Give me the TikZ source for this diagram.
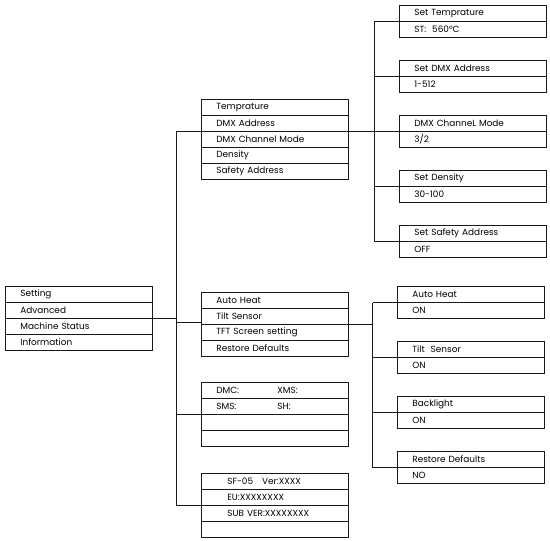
\documentclass[tikz,border=0pt]{standalone}
\usepackage{fontspec}
\setmainfont{Poppins}

\begin{document}
\begin{tikzpicture}[x=1pt,y=1pt,yscale=-1,xscale=1,
  cell/.style={draw=black!90, line width=0.75pt, anchor=north west, minimum height=16pt,
    inner xsep=15pt, inner ysep=0pt, text width=117pt, align=left,
    font=\fontsize{8.9}{9}\selectfont},
  cellwide/.style={cell, inner xsep=26pt, text width=95pt},
  link/.style={draw=black!90, line width=0.85pt}]
\useasboundingbox (0,0) rectangle (550,541);

% Main menu
\node [cell] (set) at (5,286) {Setting};
\node [cell] (adv) at (5,302) {Advanced};
\node [cell] (mst) at (5,318) {Machine Status};
\node [cell] (inf) at (5,334) {Information};

% Setting menu
\node [cell] (tmp) at (201,99) {Temprature};
\node [cell] (dad) at (201,115) {DMX Address};
\node [cell] (dcm) at (201,131) {DMX Channel Mode};
\node [cell] (den) at (201,147) {Density};
\node [cell] (saf) at (201,163) {Safety Address};

% Advanced menu
\node [cell] (aht) at (201,292) {Auto Heat};
\node [cell] (tls) at (201,308) {Tilt Sensor};
\node [cell] (tft) at (201,324) {TFT Screen setting};
\node [cell] (rsd) at (201,340) {Restore Defaults};

% Machine status
\node [cell] (dmc) at (201,382) {\makebox[61pt][l]{DMC:}XMS:};
\node [cell] (sms) at (201,398) {\makebox[61pt][l]{SMS:}SH:};
\node [cell] (msa) at (201,414) {};
\node [cell] (msb) at (201,430) {};

% Information
\node [cellwide] (ver) at (201,473) {SF-05\ \ \ Ver:XXXX};
\node [cellwide] (eu) at (201,489) {EU:XXXXXXXX};
\node [cellwide] (sub) at (201,505) {SUB VER:XXXXXXXX};
\node [cellwide] (inb) at (201,521) {};

% Setting values
\node [cell] (stt) at (399,5) {Set Temprature};
\node [cell] (stv) at (399,21) {ST:\ \ 560°C};
\node [cell] (sdt) at (399,60) {Set DMX Address};
\node [cell] (sdv) at (399,76) {1-512};
\node [cell] (chm) at (399,115) {DMX ChanneL Mode};
\node [cell] (chv) at (399,131) {3/2};
\node [cell] (sdn) at (399,170) {Set Density};
\node [cell] (snv) at (399,186) {30-100};
\node [cell] (ssa) at (399,225) {Set Safety Address};
\node [cell] (ssv) at (399,241) {OFF};

% Advanced values
\node [cell] (ah2) at (397,286) {Auto Heat};
\node [cell] (ahv) at (397,302) {ON};
\node [cell] (tl2) at (397,341) {Tilt\ \ Sensor};
\node [cell] (tlv) at (397,357) {ON};
\node [cell] (bl2) at (397,396) {Backlight};
\node [cell] (blv) at (397,412) {ON};
\node [cell] (rd2) at (397,451) {Restore Defaults};
\node [cell] (rdv) at (397,467) {NO};

% Connectors
\coordinate (trunk) at (176,0);
\coordinate (colA) at (374,0);
\coordinate (colB) at (372.5,0);

\draw [link] (dad.south west -| trunk) -- (sub.north west -| trunk);
\draw [link] (adv.south east) -- (adv.south east -| trunk);
\draw [link] (dad.south west -| trunk) -- (dad.south west);
\draw [link] ([yshift=-2pt]tls.south west -| trunk) -- ([yshift=-2pt]tls.south west);
\draw [link] (sms.south west -| trunk) -- (sms.south west);
\draw [link] (sub.north west -| trunk) -- (sub.north west);

\draw [link] (dad.south east) -- (dad.south east -| colA);
\draw [link] (stt.south west -| colA) -- (ssa.south west -| colA);
\foreach \n in {stt,sdt,chm,sdn,ssa}
  \draw [link] (\n.south west -| colA) -- (\n.south west);

\draw [link] (tls.south east) -- (tls.south east -| colB);
\draw [link] (ah2.south west -| colB) -- (rd2.south west -| colB);
\foreach \n in {ah2,tl2,bl2,rd2}
  \draw [link] (\n.south west -| colB) -- (\n.south west);

\end{tikzpicture}
\end{document}
